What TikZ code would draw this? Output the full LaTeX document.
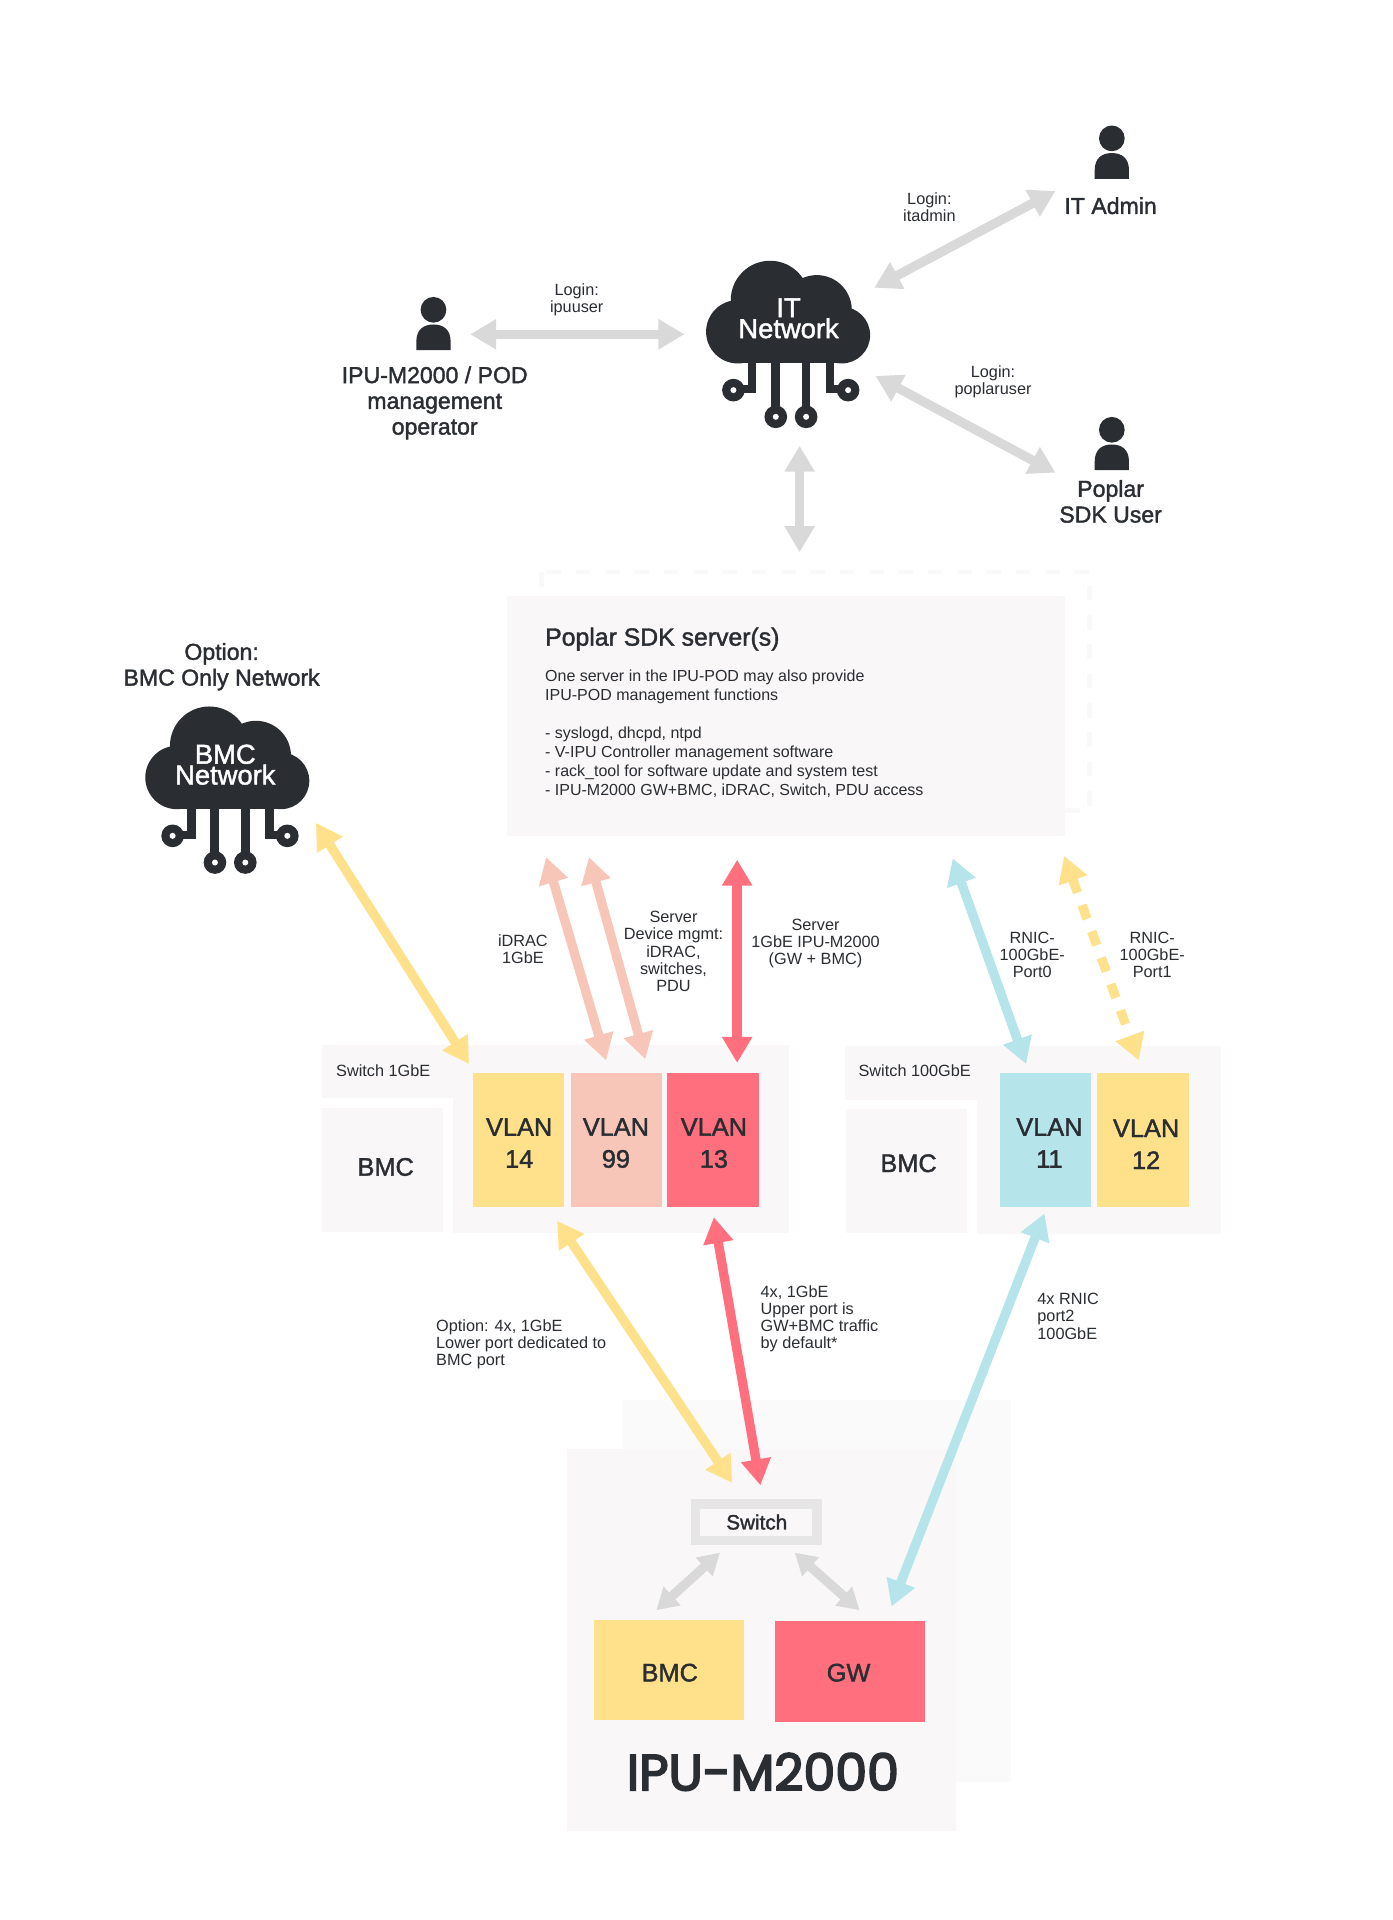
\documentclass[tikz,border=0pt]{standalone}
\usepackage{fontspec}
\usetikzlibrary{arrows.meta}
\setmainfont{Liberation Sans}
\newfontfamily\medfont[FakeBold=1.6]{Liberation Sans}
\newfontfamily\logofont[FakeBold=3.5]{Poppins}
\definecolor{ink}{HTML}{2A2D32}
\definecolor{panel}{HTML}{F9F7F8}
\definecolor{panelb}{HTML}{FBFAFB}
\definecolor{dashc}{HTML}{FAF9FA}
\definecolor{grayarr}{HTML}{D9D9D9}
\definecolor{yel}{HTML}{FEE18A}
\definecolor{sal}{HTML}{F7C6B9}
\definecolor{redc}{HTML}{FF6F7D}
\definecolor{blu}{HTML}{B5E4EA}
\definecolor{swb}{HTML}{E6E6E6}
\tikzset{
 arr/.style={line width=7pt,{Triangle[length=19.5pt,width=21.5pt]}-{Triangle[length=19.5pt,width=21.5pt]}},
 arrs/.style={line width=7pt,{Triangle[length=16pt,width=18pt]}-{Triangle[length=16pt,width=18pt]}},
 small/.style={text=ink,align=center,inner sep=0pt,font=\fontsize{12.2}{12.9}\selectfont},
 smalll/.style={small,align=left,anchor=west},
 head/.style={text=ink,align=center,inner sep=0pt,font=\medfont\fontsize{17.3}{19.3}\selectfont},
 vlanbox/.style={inner sep=0pt,minimum width=0pt,text=ink,align=center,font=\medfont\fontsize{19}{24}\selectfont},
 bigt/.style={text=ink,inner sep=0pt,font=\medfont\fontsize{19}{24}\selectfont},
 cloudt/.style={text=white,align=center,inner sep=0pt,font=\medfont\fontsize{20.5}{15.6}\selectfont},
 persona/.pic={
  \fill[ink] (0,0) circle (10.5);
  \fill[ink] (-14,33) -- (-14,26) .. controls (-14,16) and (-8,12) .. (0,12) .. controls (8,12) and (14,16) .. (14,26) -- (14,33) -- cycle;
 },
 cloudpic/.pic={
  \begin{scope}[scale=0.2723]
  \fill[ink] (173,305) circle (95);
  \fill[ink] (270,210) circle (118);
  \fill[ink] (410,240) circle (105);
  \fill[ink] (485,315) circle (85);
  \fill[ink] (173,250) rectangle (485,400);
  \fill[ink] (203,400) rectangle (229,490);
  \fill[ink] (160,465) rectangle (229,490);
  \fill[ink] (273,400) rectangle (299,540);
  \fill[ink] (365,400) rectangle (391,540);
  \fill[ink] (437,400) rectangle (463,490);
  \fill[ink] (437,465) rectangle (504,490);
  \foreach \cx/\cy in {160/480,287/560,378/560,504/480}{
   \fill[ink] (\cx,\cy) circle (34);
   \fill[white] (\cx,\cy) circle (9);
  }
  \end{scope}
 }
}
\begin{document}
\begin{tikzpicture}[x=0.91821pt,y=-0.91821pt]
\useasboundingbox (0,0) rectangle (1137,1568);
\fill[white] (0,0) rectangle (1137,1568);
% panels
\draw[dashc,line width=3.5pt,dash pattern=on 11pt off 11pt] (442,467) rectangle (890,662);
\fill[panel] (414,487) rectangle (870,683);
\fill[panel] (263,853) rectangle (644,897);
\fill[panel] (370,853) rectangle (644,1007);
\fill[panel] (263,905) rectangle (362,1006);
\fill[panel] (690,854) rectangle (997,898);
\fill[panel] (798,854) rectangle (997,1008);
\fill[panel] (691,906) rectangle (790,1007);
\fill[panelb] (509,1143) rectangle (826,1455);
\fill[panel] (463,1183) rectangle (781,1495);
% boxes
\fill[yel] (386,876) rectangle (461,986);
\fill[sal] (466,876) rectangle (541,986);
\fill[redc] (545,876) rectangle (620,986);
\fill[blu] (817,876) rectangle (891,986);
\fill[yel] (896,876) rectangle (971,986);
\fill[yel] (485,1323) rectangle (608,1405);
\fill[redc] (633,1324) rectangle (755,1406);
\fill[swb] (564,1224) rectangle (671,1262);
\fill[panel] (572,1232) rectangle (663,1254);
% people & clouds
\pic at (908,113) {persona};
\pic at (354,253) {persona};
\pic at (908,351) {persona};
\pic at (555.4,187.9) {cloudpic};
\pic at (97.4,551.9) {cloudpic};
% connector end points
\coordinate (ipuL) at (384,273); \coordinate (ipuR) at (559,273);
\coordinate (itA) at (714,235); \coordinate (itB) at (862,156);
\coordinate (poA) at (715,307); \coordinate (poB) at (862,386);
\coordinate (sdA) at (653,364); \coordinate (sdB) at (653,451);
\coordinate (bmA) at (258,672); \coordinate (bmB) at (383,869);
\coordinate (idA) at (446,700); \coordinate (idB) at (495,866);
\coordinate (dmA) at (481,700); \coordinate (dmB) at (527,865);
\coordinate (srA) at (602,702); \coordinate (srB) at (602,868);
\coordinate (r0A) at (778,701); \coordinate (r0B) at (838,869);
\coordinate (r1A) at (869,699); \coordinate (r1B) at (930,866);
\coordinate (y4A) at (455,997); \coordinate (y4B) at (598,1211);
\coordinate (r4A) at (583,994); \coordinate (r4B) at (621,1213);
\coordinate (b4A) at (853,991); \coordinate (b4B) at (728,1312);
\coordinate (g1A) at (588,1268); \coordinate (g1B) at (536,1315);
\coordinate (g2A) at (649,1268); \coordinate (g2B) at (702,1315);
% connectors
\draw[arr,grayarr] (ipuL) -- (ipuR);
\draw[arr,grayarr] (itA) -- (itB);
\draw[arr,grayarr] (poA) -- (poB);
\draw[arr,grayarr] (sdA) -- (sdB);
\draw[arr,yel] (bmA) -- (bmB);
\draw[arr,sal] (idA) -- (idB);
\draw[arr,sal] (dmA) -- (dmB);
\draw[arr,redc] (srA) -- (srB);
\draw[arr,blu] (r0A) -- (r0B);
\draw[arr,yel,dash pattern=on 11pt off 10pt] (r1A) -- (r1B);
\draw[arr,yel] (y4A) -- (y4B);
\draw[arr,redc] (r4A) -- (r4B);
\draw[arr,blu] (b4A) -- (b4B);
\draw[arrs,grayarr] (g1A) -- (g1B);
\draw[arrs,grayarr] (g2A) -- (g2B);
% texts
\node[cloudt] (itcloud) at (644,260) {IT\\Network};
\node[cloudt] (bmccloud) at (184,624.5) {BMC\\Network};
\node[head] (itadmin) at (907,168) {IT Admin};
\node[head] (operator) at (355,329) {IPU-M2000 / POD\\management\\operator};
\node[head] (poplar) at (907,409.5) {Poplar\\SDK User};
\node[head] (option) at (181,544.5) {Option:\\BMC Only Network};
\node[small] (l1) at (759,169) {Login:\\itadmin};
\node[small] (l2) at (471,245) {Login:\\ipuuser};
\node[small] (l3) at (811,312) {Login:\\poplaruser};
\node[inner sep=0pt,anchor=west,text=ink,font=\medfont\fontsize{18.6}{22}\selectfont] (sdktitle) at (445,522) {Poplar SDK server(s)};
\node[inner sep=0pt,anchor=north west,text=ink,align=left,font=\fontsize{12}{14.25}\selectfont] (sdkbody) at (445,547) {One server in the IPU-POD may also provide\\IPU-POD management functions\\[14.25pt]- syslogd, dhcpd, ntpd\\- V-IPU Controller management software\\- rack\_tool for software update and system test\\- IPU-M2000 GW+BMC, iDRAC, Switch, PDU access};
\node[small] (a1) at (427,775) {iDRAC\\1GbE};
\node[small] (a2) at (550,777) {Server\\Device mgmt:\\iDRAC,\\switches,\\PDU};
\node[small] (a3) at (666,770.5) {Server\\1GbE IPU-M2000\\(GW + BMC)};
\node[small] (a4) at (843,780) {RNIC-\\100GbE-\\Port0};
\node[small] (a5) at (941,780) {RNIC-\\100GbE-\\Port1};
\node[small] (s1) at (313,874) {Switch 1GbE};
\node[small] (s2) at (747,874) {Switch 100GbE};
\node[bigt] (b1) at (315,953) {BMC};
\node[bigt] (b2) at (742,950) {BMC};
\node[vlanbox] (v14) at (424,933.5) {VLAN\\14};
\node[vlanbox] (v99) at (503,933.5) {VLAN\\99};
\node[vlanbox] (v13) at (583,933.5) {VLAN\\13};
\node[vlanbox] (v11) at (857,933.5) {VLAN\\11};
\node[vlanbox] (v12) at (936,934.5) {VLAN\\12};
\node[smalll] (o1) at (356,1098) {Option: 4x, 1GbE\\Lower port dedicated to\\BMC port};
\node[smalll] (o2) at (621,1077) {4x, 1GbE\\Upper port is\\GW+BMC traffic\\by default*};
\node[smalll] (o3) at (847,1075) {4x RNIC\\port2\\100GbE};
\node[text=ink,inner sep=0pt,font=\medfont\fontsize{15.5}{18}\selectfont] (sw) at (618,1243) {Switch};
\node[bigt] (bb) at (547,1366) {BMC};
\node[bigt] (gw) at (693,1366) {GW};
\node[text=ink,inner sep=0pt,font=\logofont\fontsize{38}{40}\selectfont] (logo) at (623,1447) {IPU-M2000};
\end{tikzpicture}
\end{document}
